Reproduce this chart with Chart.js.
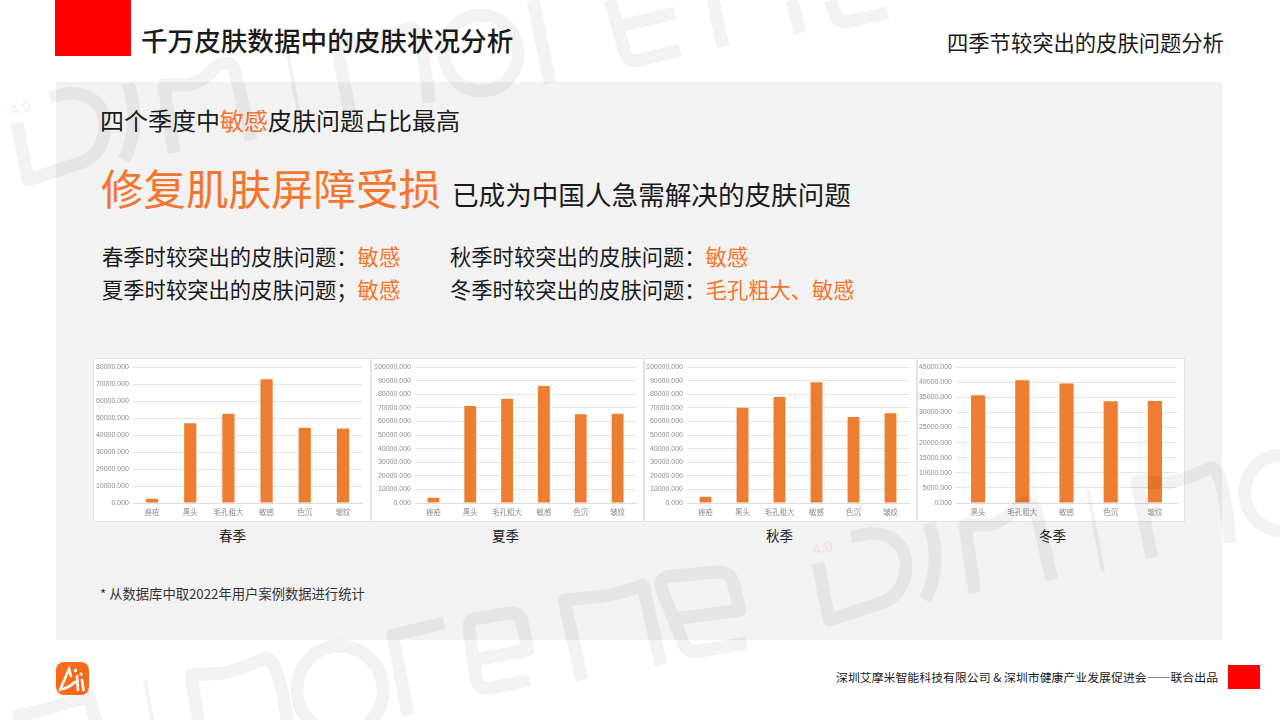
<!DOCTYPE html>
<html lang="zh-CN">
<head>
  <meta charset="UTF-8">
  <title>千万皮肤数据中的皮肤状况分析</title>
  <script src="https://cdn.jsdelivr.net/npm/chart.js"></script>
  <style>
    html, body { margin: 0; padding: 0; background: #fff; }
    body { width: 1280px; height: 720px; position: relative; overflow: hidden; font-family: "Noto Sans CJK SC", sans-serif; color: #1a1a1a; }
    .box { position: absolute; }
    .t { position: absolute; white-space: nowrap; line-height: 1; }
    .o { color: #f5742e; }
    .panel { position: absolute; background: #fff; border: 1px solid #e2e2e2; box-sizing: border-box; top: 358px; height: 164px; }
    .panel canvas { display: block; }
    .v { position: absolute; white-space: nowrap; line-height: 1; font-family: "Liberation Sans", sans-serif; font-size: 15px; color: rgba(244,110,60,0.14); transform: rotate(-14deg); }
    #watermark { position: absolute; left: 0; top: 0; pointer-events: none; }
    #watermark path, #watermark ellipse { fill: none; stroke: rgba(0,0,0,0.05); stroke-width: 13; stroke-linejoin: round; }
    #watermark .thin { stroke-width: 4; }
  </style>
</head>
<body>
  <div class="box" style="left:56px;top:82px;width:1166px;height:558px;background:#f2f2f2"></div>
  <div class="box" style="left:55px;top:0;width:76px;height:56px;background:#ff0000"></div>
  <div class="box" style="left:1228px;top:665px;width:32px;height:24px;background:#ff0000"></div>

  <div class="t" style="left:141px;top:27px;font-size:26.6px;font-weight:500">千万皮肤数据中的皮肤状况分析</div>
  <div class="t" style="left:947px;top:31px;font-size:21.3px">四季节较突出的皮肤问题分析</div>
  <div class="t" style="left:100px;top:108px;font-size:24px">四个季度中<span class="o">敏感</span>皮肤问题占比最高</div>
  <div class="t o" style="left:101px;top:166px;font-size:42.5px">修复肌肤屏障受损</div>
  <div class="t" style="left:452px;top:181px;font-size:26.6px">已成为中国人急需解决的皮肤问题</div>
  <div class="t" style="left:102px;top:245px;font-size:21.3px">春季时较突出的皮肤问题：<span class="o">敏感</span></div>
  <div class="t" style="left:450px;top:245px;font-size:21.3px">秋季时较突出的皮肤问题：<span class="o">敏感</span></div>
  <div class="t" style="left:102px;top:278px;font-size:21.3px">夏季时较突出的皮肤问题；<span class="o">敏感</span></div>
  <div class="t" style="left:450px;top:278px;font-size:21.3px">冬季时较突出的皮肤问题：<span class="o">毛孔粗大、敏感</span></div>

  <div class="panel" style="left:93px;width:278px"><canvas id="c0"></canvas></div>
  <div class="panel" style="left:371px;width:273px"><canvas id="c1"></canvas></div>
  <div class="panel" style="left:644px;width:273px"><canvas id="c2"></canvas></div>
  <div class="panel" style="left:917px;width:268px"><canvas id="c3"></canvas></div>

  <div class="t" style="left:219px;top:529px;font-size:13.5px">春季</div>
  <div class="t" style="left:492px;top:529px;font-size:13.5px">夏季</div>
  <div class="t" style="left:766px;top:529px;font-size:13.5px">秋季</div>
  <div class="t" style="left:1039px;top:529px;font-size:13.5px">冬季</div>

  <div class="t" style="left:100px;top:587px;font-size:13.3px;color:#333">* 从数据库中取2022年用户案例数据进行统计</div>
  <div class="t" style="left:836px;top:671px;font-size:11.9px">深圳艾摩米智能科技有限公司 &amp; 深圳市健康产业发展促进会——联合出品</div>

  <svg class="box" style="left:56px;top:662px" width="33" height="33" viewBox="0 0 33 33">
    <rect width="33" height="33" rx="8" fill="#f96b1b"/>
    <path d="M4 28 L13 7 L15 14 M7 27 Q14 25 19 20 M21 14 L22 28 M26 18 L27.5 28" stroke="#fff" stroke-width="2.6" stroke-linecap="round" fill="none"/>
    <circle cx="19.5" cy="8.5" r="1.8" fill="#fff"/>
    <circle cx="25" cy="12" r="1.6" fill="#fff"/>
  </svg>

  <!-- background logo artwork, sits over the slide like the original -->
  <svg id="watermark" width="1280" height="720" viewBox="0 0 1280 720">
    <defs>
      <g id="logoHead">
        <path d="M50 97 L70 93 Q105 95 105 127 Q103 155 80 163 L28 180 L17 123"/>
        <path d="M128 83 Q142 125 124 160"/>
        <path d="M174 153 L164 85 L189 85 Q205 80 216 67 Q232 56 236 75 L251 140"/>
        <path class="thin" d="M287 50 L302 132"/>
        <path d="M351 118 L336 42 L366 43 Q390 38 409 28 Q422 24 429 103"/>
      </g>
    </defs>
    <use href="#logoHead"/>
    <ellipse cx="481" cy="53" rx="37" ry="38" transform="rotate(-14 481 53)"/>
    <path d="M550 83 L533 0"/>
    <path d="M680 50 L640 60 Q628 63 625 52 L610 0 M675 13 L617 27"/>
    <path d="M723 47 L713 0 M800 33 L792 0"/>
    <path d="M888 13 L850 21 Q838 23 835 14 L830 0"/>

    <use href="#logoHead" x="801" y="440"/>
    <ellipse cx="1282" cy="493" rx="37" ry="38" transform="rotate(-14 1282 493)"/>

    <path d="M13 717 L51 708 Q75 700 89 697 L97 725"/>
    <path class="thin" d="M145 680 L153 725"/>
    <path d="M199 725 L191 675 L224 673 Q245 668 265 658 Q278 656 288 725"/>
    <ellipse cx="340" cy="690" rx="43" ry="44" transform="rotate(-12 340 690)"/>
    <path d="M408 715 L393 635 L444 623"/>
    <path d="M530 680 L490 688 Q478 690 476 678 L469 630 Q468 618 480 618 L510 613 Q520 612 522 622 L528 650 L474 660"/>
    <path d="M582 680 L564 600 L597 597 Q620 594 643 585 L661 665"/>
    <path d="M747 643 L700 651 Q686 653 682 640 L662 590 Q658 577 672 576 L718 572 Q730 572 733 582 L740 610 L668 620"/>
  </svg>
  <div class="v" style="left:10px;top:100px">4.0</div>
  <div class="v" style="left:812px;top:540px">4.0</div>

  <script>
    const categories = ['痤疮', '黑头', '毛孔粗大', '敏感', '色沉', '皱纹'];
    const winterCategories = ['黑头', '毛孔粗大', '敏感', '色沉', '皱纹'];
    const spring = [2500, 47000, 52600, 72900, 44300, 43900];
    const summer = [3900, 71400, 76700, 86200, 65400, 65800];
    const autumn = [4600, 70100, 78000, 88900, 63300, 66000];
    const winter = [35700, 40700, 39600, 33700, 33800];

    function drawChart(id, labels, values, maxY, step, left, right) {
      new Chart(document.getElementById(id), {
        type: 'bar',
        data: {
          labels: labels,
          datasets: [{ data: values, backgroundColor: '#ed7d31', categoryPercentage: 0.32, barPercentage: 1 }]
        },
        options: {
          responsive: false,
          animation: false,
          layout: { padding: { top: 7, right: right, bottom: 0, left: 0 } },
          plugins: { legend: { display: false }, tooltip: { enabled: false } },
          scales: {
            x: {
              afterFit: function (s) { s.height = 18; },
              grid: { display: false, drawTicks: false },
              border: { color: '#dcdcdc' },
              ticks: { color: '#8c8c8c', font: { size: 7.5, family: '"Noto Sans CJK SC"' }, maxRotation: 0, padding: 5 }
            },
            y: {
              min: 0,
              max: maxY,
              afterFit: function (s) { s.width = left; },
              grid: { color: '#e4e4e4', drawTicks: false },
              border: { display: false },
              ticks: {
                stepSize: step,
                padding: 4,
                color: '#8c8c8c',
                font: { size: 7, family: '"Liberation Sans"' },
                callback: function (v) { return v.toFixed(3); }
              }
            }
          }
        }
      });
    }

    function size(id, w, h) {
      const c = document.getElementById(id);
      c.width = w; c.height = h;
      c.style.width = w + 'px'; c.style.height = h + 'px';
    }
    size('c0', 276, 162); size('c1', 271, 162); size('c2', 271, 162); size('c3', 266, 162);

    drawChart('c0', categories, spring, 80000, 10000, 39, 8);
    drawChart('c1', categories, summer, 100000, 10000, 43, 7);
    drawChart('c2', categories, autumn, 100000, 10000, 42, 7);
    drawChart('c3', winterCategories, winter, 45000, 5000, 38, 7);
  </script>
</body>
</html>
